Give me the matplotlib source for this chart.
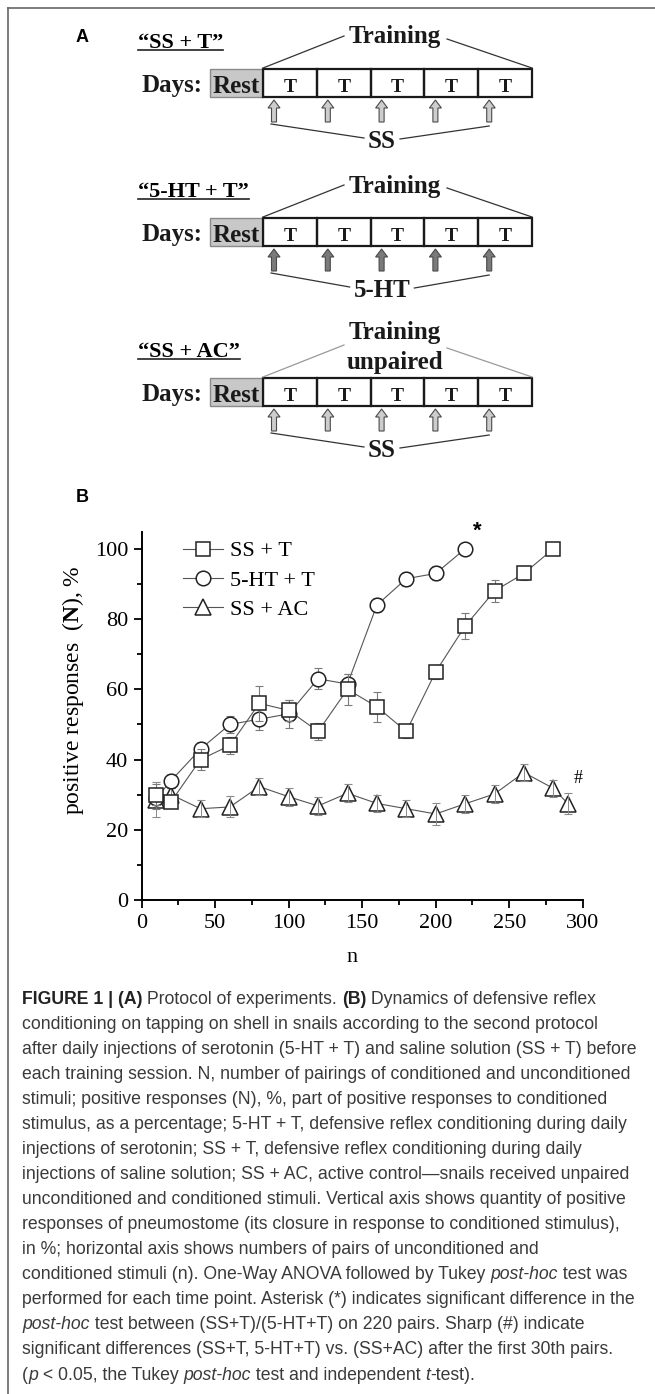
import matplotlib
matplotlib.use('Agg')
import matplotlib.pyplot as plt
from matplotlib.patches import Rectangle, FancyArrow
from matplotlib.font_manager import FontProperties
from matplotlib.ticker import MultipleLocator

# ---- panel B data ----
n_ss_t = [10, 20, 40, 60, 80, 100, 120, 140, 160, 180, 200, 220, 240, 260, 280]
ss_t = [30, 28, 40, 44, 56, 54, 48, 60, 55, 48, 65, 78, 88, 93, 100]
ss_t_err = [3, 1.5, 3, 2.5, 5, 3, 2.5, 4.5, 4.3, 2, 2, 3.8, 3, 2, 0]

n_ht_t = [10, 20, 40, 60, 80, 100, 120, 140, 160, 180, 200, 220]
ht_t = [29, 34, 43, 50, 51.5, 53, 63, 61.5, 84, 91.5, 93, 100]
ht_t_err = [3, 2, 2, 2.5, 3, 4, 3, 3, 2, 2, 2, 0]

n_ss_ac = [10, 20, 40, 60, 80, 100, 120, 140, 160, 180, 200, 220, 240, 260, 280, 290]
ss_ac = [28.5, 30, 26, 26.5, 32.3, 29.4, 26.8, 30.4, 27.5, 26, 24.5, 27.4, 30.2, 36.3, 31.8, 27.4]
ss_ac_err = [5, 2, 2.5, 3, 2.5, 2.5, 2.5, 2.5, 2.5, 2.5, 3, 2.5, 2.5, 2.5, 2.5, 3]

series_labels = ['SS + T', '5-HT + T', 'SS + AC']
x_ticks = [0, 50, 100, 150, 200, 250, 300]
y_ticks = [0, 20, 40, 60, 80, 100]

# ---- panel A labels ----
protocol_titles = ['“SS + T”', '“5-HT + T”', '“SS + AC”']
training_labels = ['Training', 'Training', 'Training\nunpaired']
injection_labels = ['SS', '5-HT', 'SS']
day_labels = ['Rest', 'T', 'T', 'T', 'T', 'T']
arrow_fill = ['#cdcdcd', '#7a7a7a', '#cdcdcd']

# ---- caption: (text, style) pieces per line ----
caption_lines = [
    [('FIGURE 1 | (A)', 'b'), (' Protocol of experiments. ', 'n'), ('(B)', 'b'), (' Dynamics of defensive reflex', 'n')],
    [('conditioning on tapping on shell in snails according to the second protocol', 'n')],
    [('after daily injections of serotonin (5-HT + T) and saline solution (SS + T) before', 'n')],
    [('each training session. N, number of pairings of conditioned and unconditioned', 'n')],
    [('stimuli; positive responses (N), %, part of positive responses to conditioned', 'n')],
    [('stimulus, as a percentage; 5-HT + T, defensive reflex conditioning during daily', 'n')],
    [('injections of serotonin; SS + T, defensive reflex conditioning during daily', 'n')],
    [('injections of saline solution; SS + AC, active control\u2014snails received unpaired', 'n')],
    [('unconditioned and conditioned stimuli. Vertical axis shows quantity of positive', 'n')],
    [('responses of pneumostome (its closure in response to conditioned stimulus),', 'n')],
    [('in %; horizontal axis shows numbers of pairs of unconditioned and', 'n')],
    [('conditioned stimuli (n). One-Way ANOVA followed by Tukey ', 'n'), ('post-hoc', 'i'), (' test was', 'n')],
    [('performed for each time point. Asterisk (*) indicates significant difference in the', 'n')],
    [('post-hoc', 'i'), (' test between (SS+T)/(5-HT+T) on 220 pairs. Sharp (#) indicate', 'n')],
    [('significant differences (SS+T, 5-HT+T) vs. (SS+AC) after the first 30th pairs.', 'n')],
    [('(', 'n'), ('p', 'i'), (' < 0.05, the Tukey ', 'n'), ('post-hoc', 'i'), (' test and independent ', 'n'),
     ('t', 'i'), ('-test).', 'n')],
]

plt.rcParams['font.family'] = 'Liberation Serif'
plt.rcParams['mathtext.fontset'] = 'custom'
plt.rcParams['mathtext.rm'] = 'Liberation Serif'
plt.rcParams['mathtext.bf'] = 'Liberation Serif:bold'

W, H = 655, 1394
fig = plt.figure(figsize=(W / 100, H / 100), dpi=100)
renderer = fig.canvas.get_renderer()

# background axes in pixel units (y downwards)
bg = fig.add_axes([0, 0, 1, 1])
bg.set_xlim(0, W)
bg.set_ylim(H, 0)
bg.axis('off')


def advance(s, prop):
    w1 = renderer.get_text_width_height_descent('|' + s + '|', prop, ismath=False)[0]
    w0 = renderer.get_text_width_height_descent('||', prop, ismath=False)[0]
    return w1 - w0


# frame lines
bg.plot([8, 8], [8, H], color='#666666', lw=1.2)
bg.plot([8, W], [8, 8], color='#666666', lw=1.2)

bg.text(82, 37, 'A', family='Liberation Sans', weight='bold', fontsize=13, ha='center', va='center')
bg.text(82, 498, 'B', family='Liberation Sans', weight='bold', fontsize=13, ha='center', va='center')

# ---- panel A protocol diagrams ----
box_tops = [69, 218, 378]
rest_x, rest_w = 210, 53
day_w = 53.8
box_h = 28
big = FontProperties(family='Liberation Serif', weight='bold', size=18)
title_prop = FontProperties(family='Liberation Serif', weight='bold', size=16)

for k, top in enumerate(box_tops):
    # title underlined
    bg.text(138, top - 21, protocol_titles[k], fontproperties=title_prop, ha='left', va='baseline')
    tw = advance(protocol_titles[k], title_prop)
    bg.plot([138, 138 + tw], [top - 19, top - 19], color='#222222', lw=1.2)

    # days row
    bg.text(203, top + 23, 'Days:', fontproperties=big, ha='right', va='baseline', color='#1a1a1a')
    bg.add_patch(Rectangle((rest_x, top), rest_w, box_h, fc='#c8c8c8', ec='#8a8a8a', lw=1))
    bg.text(rest_x + rest_w / 2, top + 24, day_labels[0], fontproperties=big, ha='center',
            va='baseline', color='#1a1a1a')
    x0 = rest_x + rest_w
    arrow_x = []
    for i, lab in enumerate(day_labels[1:]):
        bx = x0 + i * day_w
        bg.add_patch(Rectangle((bx, top), day_w, box_h, fc='none', ec='#1a1a1a', lw=1.6))
        bg.text(bx + day_w / 2, top + 23, lab, family='Liberation Serif', weight='bold', fontsize=14,
                ha='center', va='baseline', color='#1a1a1a')
        ax_ = bx + 11
        arrow_x.append(ax_)
        bg.add_patch(FancyArrow(ax_, top + 53, 0, -22, width=5, head_width=12, head_length=8,
                                length_includes_head=True, fc=arrow_fill[k], ec='#4a4a4a', lw=0.8))
    x_end = x0 + 5 * day_w

    # training bracket
    tl = training_labels[k].split('\n')
    for j, line in enumerate(tl):
        bg.text(395, top - 32 - 13 * (len(tl) - 1) + 29 * j, line, fontproperties=big,
                ha='center', va='center', color='#1a1a1a')
    lc = '#9a9a9a' if len(tl) > 1 else '#333333'
    bg.plot([x0, 344], [top - 1, top - 33], color=lc, lw=0.9)
    bg.plot([447, x_end], [top - 30, top - 1], color=lc, lw=0.9)

    # injection bracket
    iw = advance(injection_labels[k], big)
    bg.text(382, top + 79, injection_labels[k], fontproperties=big, ha='center', va='baseline',
            color='#1a1a1a')
    bg.plot([arrow_x[0] - 3, 382 - iw / 2 - 4], [top + 55, top + 69], color='#333333', lw=0.9)
    bg.plot([382 + iw / 2 + 4, arrow_x[-1]], [top + 70, top + 57], color='#333333', lw=0.9)

# ---- panel B chart ----
ax = fig.add_axes([141.7 / W, (H - 900) / H, 441 / W, 368 / H])
ax.patch.set_alpha(0)

ax.errorbar(n_ss_t, ss_t, yerr=ss_t_err, fmt='none', ecolor='#7a7a7a', elinewidth=0.8,
            capsize=3, capthick=0.8, zorder=4)
ax.plot(n_ss_t, ss_t, '-', color='#555555', lw=0.8, marker='s', ms=9.5, mfc='white',
        mec='#222222', mew=1.1, label=series_labels[0], zorder=5)

ax.errorbar(n_ht_t, ht_t, yerr=ht_t_err, fmt='none', ecolor='#7a7a7a', elinewidth=0.8,
            capsize=3, capthick=0.8, zorder=3)
ax.plot(n_ht_t, ht_t, '-', color='#555555', lw=0.8, marker='o', ms=10.5, mfc='white',
        mec='#222222', mew=1.1, label=series_labels[1], zorder=3.5)

ax.plot(n_ss_ac, ss_ac, '-', color='#555555', lw=0.8, marker='^', ms=12, mfc='white',
        mec='#222222', mew=1.1, label=series_labels[2], zorder=2)
ax.errorbar(n_ss_ac, ss_ac, yerr=ss_ac_err, fmt='none', ecolor='#8a8a8a', elinewidth=0.7,
            capsize=3, capthick=0.8, zorder=2.5)

ax.set_xlim(0, 300)
ax.set_ylim(0, 104.8)
ax.set_xticks(x_ticks)
ax.set_yticks(y_ticks)
ax.xaxis.set_minor_locator(MultipleLocator(25))
ax.yaxis.set_minor_locator(MultipleLocator(10))
for s in ['top', 'right']:
    ax.spines[s].set_visible(False)
for s in ['left', 'bottom']:
    ax.spines[s].set_linewidth(1.4)
ax.tick_params(which='major', direction='out', length=5.8, width=1.3, labelsize=16, pad=4)
ax.tick_params(which='minor', direction='out', length=3.3, width=1.3)

ax.set_ylabel('positive responses  ($\\mathbf{N}$), %', fontsize=17)
ax.yaxis.set_label_coords(-0.126, 0.571)
ax.set_xlabel('n', fontsize=16)
ax.xaxis.set_label_coords(0.477, -0.13)

ax.legend(loc='upper left', bbox_to_anchor=(0.094, 0.976), frameon=False, fontsize=16,
          handlelength=1.8, handletextpad=0.3, labelspacing=0.4, borderaxespad=0,
          borderpad=0, numpoints=1)

ax.text(228, 105.0, '*', family='Liberation Sans', weight='bold', fontsize=16, ha='center',
        va='center', clip_on=False)
ax.text(296.6, 34.5, '#', fontsize=13, ha='center', va='center', clip_on=False)

# ---- caption ----
styles = {
    'n': FontProperties(family='Liberation Sans', size=12.7),
    'b': FontProperties(family='Liberation Sans', size=12.7, weight='bold'),
    'i': FontProperties(family='Liberation Sans', size=12.7, style='italic'),
}
for i, pieces in enumerate(caption_lines):
    x = 22
    y = 1003.5 + 25.07 * i
    for txt, st in pieces:
        bg.text(x, y, txt, fontproperties=styles[st], ha='left', va='baseline',
                color='#3a3a3a' if st != 'b' else '#222222')
        x += advance(txt, styles[st])

fig.savefig('out.png', dpi=100)
